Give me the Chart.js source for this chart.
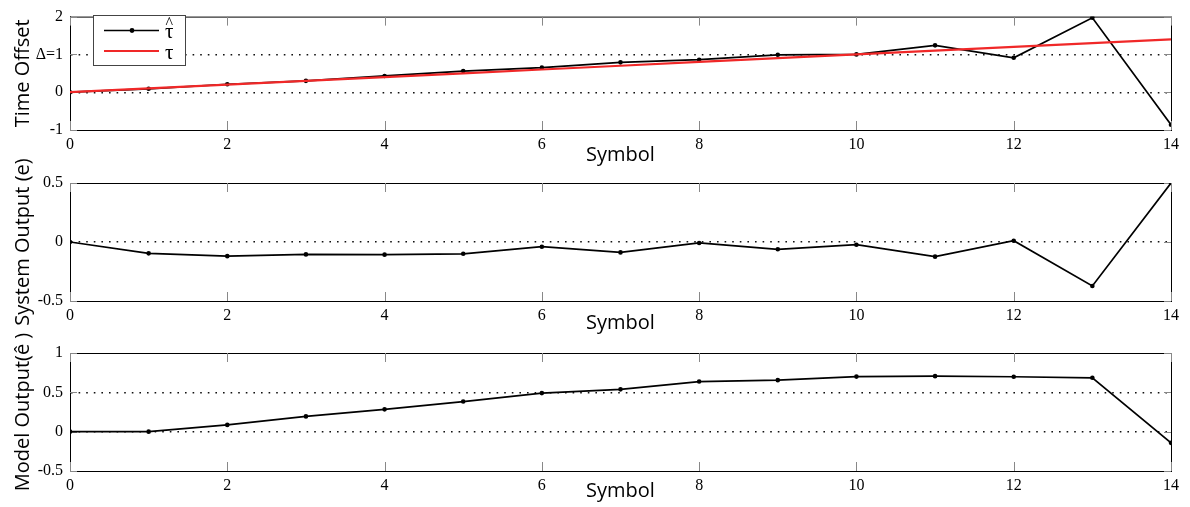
<!DOCTYPE html>
<html>
<head>
<meta charset="utf-8">
<script src="https://cdn.jsdelivr.net/npm/chart.js@4.4.1/dist/chart.umd.min.js"></script>
<style>
  html, body { margin: 0; padding: 0; background: #fff; }
  #wrap { position: relative; width: 1190px; height: 507px; overflow: hidden; }
  .panel { position: absolute; left: 0; width: 1190px; }
</style>
</head>
<body>
<div id="wrap">
  <div class="panel" style="top:0;height:170px"><canvas id="offsetChart"></canvas></div>
  <div class="panel" style="top:150px;height:190px"><canvas id="systemChart"></canvas></div>
  <div class="panel" style="top:320px;height:187px"><canvas id="modelChart"></canvas></div>
</div>
<script>
// ── Data ──────────────────────────────────────────────────────────────────────
const symbols   = [0, 1, 2, 3, 4, 5, 6, 7, 8, 9, 10, 11, 12, 13, 14];
const tauHat    = [0, 0.09, 0.21, 0.30, 0.43, 0.56, 0.65, 0.79, 0.86, 0.99, 1.00, 1.24, 0.91, 1.97, -0.86];
const tauTrue   = [0, 0.1, 0.2, 0.3, 0.4, 0.5, 0.6, 0.7, 0.8, 0.9, 1.0, 1.1, 1.2, 1.3, 1.4];
const sysOut    = [0, -0.096, -0.12, -0.105, -0.107, -0.10, -0.04, -0.088, -0.008, -0.062, -0.023, -0.124, 0.011, -0.373, 0.5];
const modelOut  = [0, 0, 0.086, 0.194, 0.284, 0.383, 0.49, 0.538, 0.637, 0.655, 0.70, 0.706, 0.698, 0.685, -0.142];

const xTicks       = { min: 0, max: 14, step: 2 };
const offsetTicks  = { min: -1, max: 2, step: 1, dotted: [0, 1] };
const systemTicks  = { min: -0.5, max: 0.5, step: 0.5, dotted: [0] };
const modelTicks   = { min: -0.5, max: 1, step: 0.5, dotted: [0, 0.5] };

// ── Styling ───────────────────────────────────────────────────────────────────
const SERIF = { family: "'Liberation Serif', 'DejaVu Serif', serif", size: 16 };
const SANS  = { family: "'Open Sans', 'Noto Sans', sans-serif", size: 20 };
const RED   = "rgb(240,40,40)";

const pts = ys => symbols.map((s, i) => ({ x: s, y: ys[i] }));

// box round the plot area + inward ticks on all four sides (MATLAB look)
const framePlugin = {
  id: "frame",
  beforeDatasetsDraw(chart) {
    const { ctx, chartArea: a, scales: { x, y } } = chart;
    ctx.save();
    ctx.strokeStyle = "#000";
    ctx.lineWidth = 1;
    ctx.strokeRect(a.left + 0.5, a.top + 0.5, a.right - a.left, a.bottom - a.top);
    ctx.strokeStyle = "#888";
    ctx.beginPath();
    x.ticks.forEach(t => {
      const px = Math.round(x.getPixelForValue(t.value)) + 0.5;
      ctx.moveTo(px, a.top); ctx.lineTo(px, a.top + 9);
      ctx.moveTo(px, a.bottom); ctx.lineTo(px, a.bottom - 9);
    });
    y.ticks.forEach(t => {
      const py = Math.round(y.getPixelForValue(t.value)) + 0.5;
      ctx.moveTo(a.left, py); ctx.lineTo(a.left + 7, py);
      ctx.moveTo(a.right, py); ctx.lineTo(a.right - 7, py);
    });
    ctx.stroke();
    ctx.restore();
  }
};

// small boxed legend in the upper left corner of the first panel
const legendPlugin = {
  id: "boxLegend",
  afterDatasetsDraw(chart) {
    if (chart.canvas.id !== "offsetChart") return;
    const { ctx } = chart;
    const entries = chart.data.datasets.slice().reverse();
    ctx.save();
    ctx.fillStyle = "#fff";
    ctx.fillRect(93.5, 15.5, 92, 50);
    ctx.strokeStyle = "#444";
    ctx.lineWidth = 1;
    ctx.strokeRect(93.5, 15.5, 92, 50);
    entries.forEach((ds, i) => {
      const yy = 30.5 + i * 20.5;
      ctx.strokeStyle = ds.borderColor;
      ctx.lineWidth = ds.borderWidth;
      ctx.beginPath(); ctx.moveTo(104, yy); ctx.lineTo(159, yy); ctx.stroke();
      if (ds.pointRadius) {
        ctx.fillStyle = ds.pointBackgroundColor;
        ctx.beginPath(); ctx.arc(132, yy, 2.4, 0, Math.PI * 2); ctx.fill();
      }
      ctx.fillStyle = "#000";
      ctx.font = "21px " + SERIF.family;
      ctx.textBaseline = "middle";
      // a hatted label: draw the letter, then a circumflex centred above it
      const hat = ds.label.endsWith("\u0302");
      const base = hat ? ds.label.slice(0, -1) : ds.label;
      ctx.fillText(base, 165, yy + 2);
      if (hat) {
        const w = ctx.measureText(base).width;
        ctx.font = "16px " + SERIF.family;
        ctx.textAlign = "center";
        ctx.fillText("^", 165 + w / 2, yy - 7);
        ctx.textAlign = "left";
      }
    });
    ctx.restore();
  }
};

function makePanel(id, datasets, yCfg, yTitle, yLabel, topPad, xAxisH, titlePad) {
  return new Chart(document.getElementById(id), {
    type: "line",
    data: { datasets },
    plugins: [framePlugin, legendPlugin],
    options: {
      responsive: true, maintainAspectRatio: false, animation: false,
      layout: { padding: { top: topPad, right: 19, left: 0, bottom: 0 } },
      plugins: { legend: { display: false }, tooltip: { enabled: false } },
      elements: { line: { tension: 0 } },
      scales: {
        x: {
          type: "linear", min: xTicks.min, max: xTicks.max,
          ticks: { stepSize: xTicks.step, font: SERIF, color: "#000", padding: 5, autoSkip: false, maxRotation: 0 },
          grid: { drawOnChartArea: false, drawTicks: false },
          border: { display: true, color: "#000", width: 1 },
          title: { display: true, text: "Symbol", font: SANS, color: "#000", padding: { top: 0, bottom: titlePad } },
          afterFit: s => { s.height = xAxisH; }
        },
        y: {
          min: yCfg.min, max: yCfg.max,
          ticks: { stepSize: yCfg.step, font: SERIF, color: "#000", padding: 7, callback: yLabel },
          grid: {
            drawTicks: false, lineWidth: 1.4,
            color: c => yCfg.dotted.some(v => Math.abs(v - c.tick.value) < 1e-9) ? "#111" : "rgba(0,0,0,0)"
          },
          border: { display: true, color: "#000", width: 1, dash: [1.6, 6] },
          title: { display: true, text: yTitle, font: SANS, color: "#000", padding: { top: 11, bottom: 0 } },
          afterFit: s => { s.width = 70; }
        }
      }
    }
  });
}

const blackLine = (label, ys) => ({
  label, data: pts(ys),
  borderColor: "#000", borderWidth: 1.7,
  pointRadius: 2.3, pointBackgroundColor: "#000", pointBorderWidth: 0
});

makePanel("offsetChart", [
  { label: "τ", data: pts(tauTrue), borderColor: RED, borderWidth: 2.2, pointRadius: 0 },
  blackLine("τ\u0302", tauHat)
], offsetTicks, "Time Offset", v => v === 1 ? "Δ=1" : v, 13, 40, 3);

makePanel("systemChart", [blackLine("e", sysOut)], systemTicks,
  "System Output (e)", v => v, 33, 39, 5);

makePanel("modelChart", [blackLine("ê", modelOut)], modelTicks,
  "Model Output(ê )", v => v, 33, 36, 4);
</script>
</body>
</html>
